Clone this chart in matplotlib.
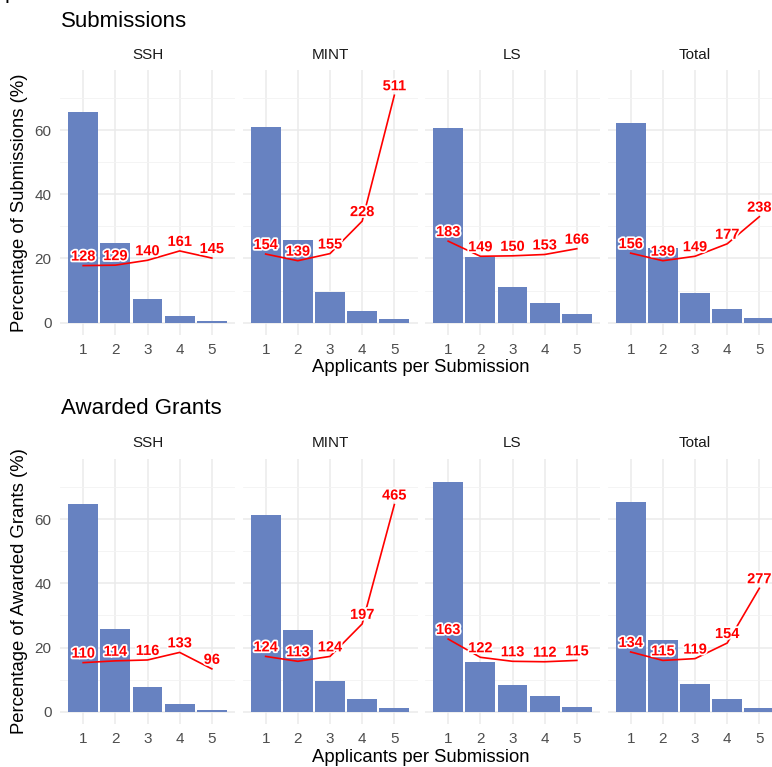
import matplotlib
matplotlib.use("Agg")
import matplotlib.pyplot as plt
import matplotlib.patheffects as pe
import numpy as np

plt.rcParams['font.family'] = ['Liberation Sans', 'DejaVu Sans']

# data
fields = ["SSH", "MINT", "LS", "Total"]
applicants = [1, 2, 3, 4, 5]

sub_pct = {
    "SSH": [65.9, 24.7, 7.4, 2.1, 0.6],
    "MINT": [61.0, 25.7, 9.5, 3.5, 1.0],
    "LS": [60.6, 20.4, 11.0, 6.1, 2.7],
    "Total": [62.4, 23.4, 9.2, 4.2, 1.5],
}
sub_amount = {
    "SSH": [128, 129, 140, 161, 145],
    "MINT": [154, 139, 155, 228, 511],
    "LS": [183, 149, 150, 153, 166],
    "Total": [156, 139, 149, 177, 238],
}
grant_pct = {
    "SSH": [64.9, 25.9, 7.7, 2.4, 0.6],
    "MINT": [61.2, 25.5, 9.5, 4.0, 1.2],
    "LS": [71.7, 15.4, 8.3, 4.8, 1.5],
    "Total": [65.5, 22.4, 8.6, 3.9, 1.2],
}
grant_amount = {
    "SSH": [110, 114, 116, 133, 96],
    "MINT": [124, 113, 124, 197, 465],
    "LS": [163, 122, 113, 112, 115],
    "Total": [134, 115, 119, 154, 277],
}

AMOUNT_SCALE = 7.2
BAR_COLOR = "#6782C1"
W, H = 772, 767

fig = plt.figure(figsize=(W / 100, H / 100), dpi=100)


def px_axes(x0, ytop, width, ybot):
    return fig.add_axes([x0 / W, 1 - ybot / H, width / W, (ybot - ytop) / H])


def draw_row(pct, amount, ytop, ybot, title, title_base, strip_y, ylabel, xlab_y):
    fig.text(61 / W, 1 - title_base / H, title, fontsize=16, va="baseline", ha="left")
    for i, f in enumerate(fields):
        x0 = 60 + i * 182.5
        ax = px_axes(x0, ytop, 175, ybot)
        ax.bar(applicants, pct[f], width=0.93, color=BAR_COLOR, zorder=2)
        yline = np.array(amount[f]) / AMOUNT_SCALE
        ax.plot(applicants, yline, color="red", lw=1.2, zorder=3)
        for x, y, v in zip(applicants, yline, amount[f]):
            ax.annotate(str(v), (x, y), xytext=(0, 6.5), textcoords="offset points",
                        ha="center", va="center", color="red", fontsize=10.5,
                        fontweight="bold", zorder=4,
                        path_effects=[pe.withStroke(linewidth=2.5, foreground="white")])
        ax.set_xlim(0.28, 5.72)
        ax.set_ylim(-3.8, 78.9)
        ax.set_xticks(applicants)
        ax.set_yticks([0, 20, 40, 60])
        ax.set_yticks([10, 30, 50, 70], minor=True)
        ax.grid(True, which="major", color="#EBEBEB", lw=1.1, zorder=0)
        ax.grid(True, which="minor", axis="y", color="#F3F3F3", lw=0.6, zorder=0)
        ax.set_axisbelow(True)
        for s in ax.spines.values():
            s.set_visible(False)
        ax.tick_params(length=0, labelsize=11, labelcolor="#4D4D4D", pad=6)
        ax.tick_params(which="minor", length=0)
        if i > 0:
            ax.set_yticklabels([])
        else:
            ax.set_ylabel(ylabel, fontsize=13.3, labelpad=5)
        fig.text((x0 + 87.5) / W, 1 - strip_y / H, f, fontsize=11, color="#1A1A1A",
                 ha="center", va="center")
    fig.text(421 / W, 1 - xlab_y / H, "Applicants per Submission", fontsize=13.3,
             ha="center", va="center")


draw_row(sub_pct, sub_amount, 69.9, 334.7, "Submissions", 26.7, 55,
         "Percentage of Submissions (%)", 368)
draw_row(grant_pct, grant_amount, 458.7, 723.8, "Awarded Grants", 414, 443,
         "Percentage of Awarded Grants (%)", 758)

# cropped glyph at the very top edge of the source image
fig.text(5 / W, 1 + 2 / H, "p", fontsize=16, va="baseline", ha="left")

fig.savefig("out.png", dpi=100)
